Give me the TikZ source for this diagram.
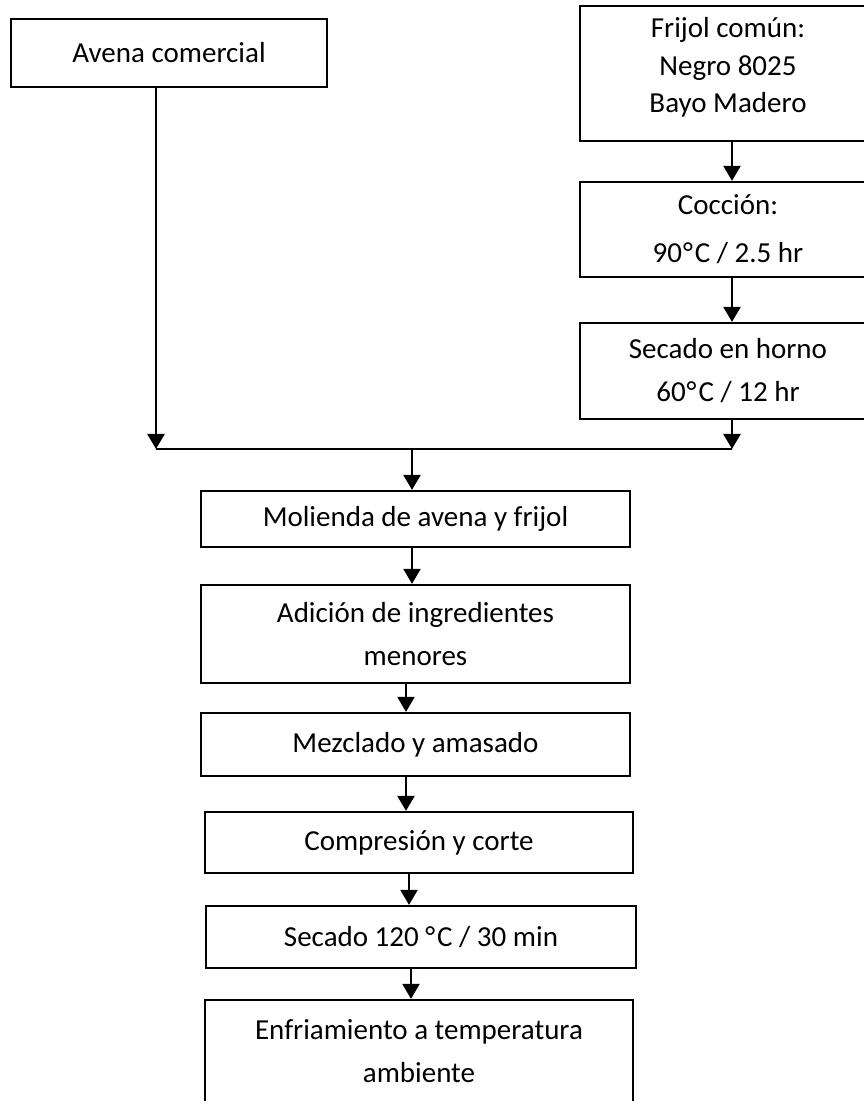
\documentclass[tikz,border=0pt]{standalone}
\usepackage{fontspec}
\setmainfont{Carlito}
\usetikzlibrary{arrows.meta}

\tikzset{
	caja/.style={draw, line width=2.2pt, align=center, inner sep=0pt,
		font=\fontsize{29}{43}\selectfont},
	flecha/.style={line width=2.2pt, -{Triangle[width=17pt,length=15pt]}},
	linea/.style={line width=2.2pt}
}
\newcommand{\grad}{\kern1pt°\kern2pt}

\begin{document}
\begin{tikzpicture}[x=1pt, y=1pt]

\def\width{863}
\def\height{1101}

\path [use as bounding box] (0,0) rectangle (\width,\height);

% ENTRADAS
\node [caja, minimum width=316pt, minimum height=68pt] (avena) at (169,1048) {Avena comercial};
\node [caja, minimum width=296pt, minimum height=135pt] (frijol) at (728,1027.5)
	{\raisebox{0pt}[0pt][0pt]{\parbox{280pt}{\centering Frijol común:\\[-5.5pt] Negro 8025\\[-5.5pt] Bayo Madero}}};
\node [caja, minimum width=296pt, minimum height=95pt] (coccion) at (728,871.5) {Cocción:\\[5pt] 90\grad C / 2.5 hr};
\node [caja, minimum width=296pt, minimum height=96pt] (secado) at (728,730) {Secado en horno\\ 60\grad C / 12 hr};

% UNION
\coordinate (jl) at (156,652);
\coordinate (jm) at (412,652);
\coordinate (jr) at (732,652);

% PROCESO
\node [caja, minimum width=429pt, minimum height=56pt] (molienda) at (415.5,582) {Molienda de avena y frijol};
\node [caja, minimum width=429pt, minimum height=98pt] (adicion) at (415.5,467) {Adición de ingredientes\\ menores};
\node [caja, minimum width=429pt, minimum height=63pt] (mezclado) at (415.5,356.5) {Mezclado y amasado};
\node [caja, minimum width=428pt, minimum height=61pt] (compresion) at (419,258.5) {Compresión y corte};
\node [caja, minimum width=430pt, minimum height=62pt] (secadoc) at (421,164) {Secado 120 °\kern2pt C / 30 min};
\node [caja, minimum width=428pt, minimum height=102pt] (enfriamiento) at (419,50) {Enfriamiento a temperatura\\ ambiente};

% FLECHAS
\draw [flecha] (avena.south -| jl) -- (jl);
\draw [flecha] (frijol.south -| jr) -- (coccion.north -| jr);
\draw [flecha] (coccion.south -| jr) -- (secado.north -| jr);
\draw [flecha] (secado.south -| jr) -- (jr);
\draw [linea] (jl) -- (jr);
\draw [flecha] (jm) -- (molienda.north -| jm);
\draw [flecha] (molienda.south -| jm) -- (adicion.north -| jm);
\draw [flecha] ([xshift=-9.5pt]adicion.south) -- ([xshift=-9.5pt]mezclado.north);
\draw [flecha] ([xshift=-9.5pt]mezclado.south) -- ([xshift=-13pt]compresion.north);
\draw [flecha] ([xshift=-10pt]compresion.south) -- ([xshift=-12pt]secadoc.north);
\draw [flecha] ([xshift=-10pt]secadoc.south) -- ([xshift=-8pt]enfriamiento.north);

\end{tikzpicture}
\end{document}
